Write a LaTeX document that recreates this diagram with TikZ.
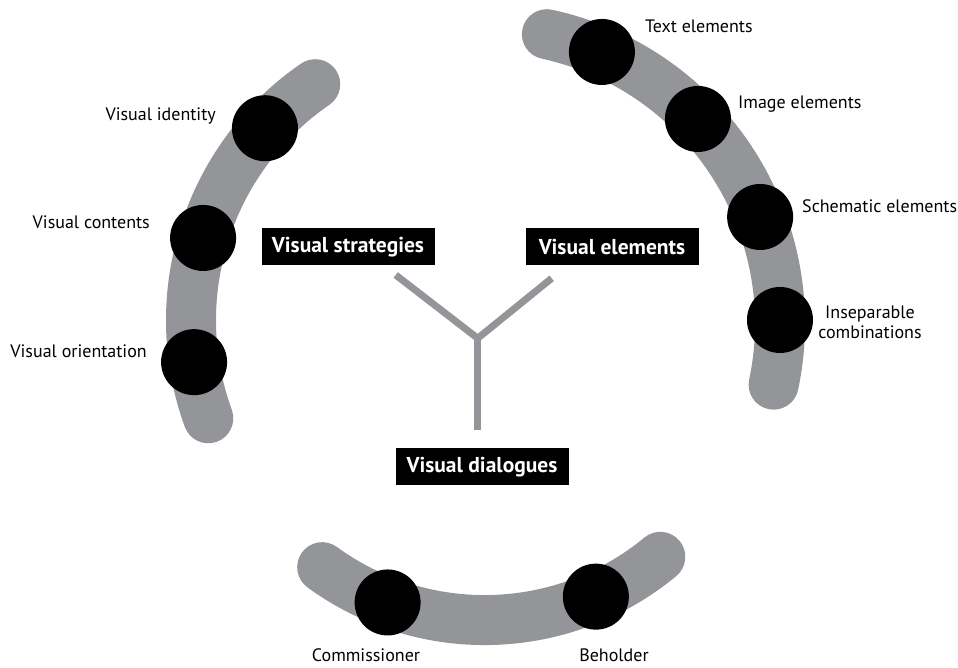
\documentclass[tikz,border=0pt]{standalone}
\usepackage{fontspec}
\setmainfont{PT Sans}
\usetikzlibrary{calc}
\definecolor{bandgray}{RGB}{147,149,152}
\begin{document}
\begin{tikzpicture}[x=1pt,y=1pt,
  band/.style={line width=50pt, draw=bandgray, line cap=round},
  dot/.style={circle, fill=black, minimum size=66pt, inner sep=0pt},
  stem/.style={line width=7pt, draw=bandgray, line cap=butt},
  boxlabel/.style={fill=black, text=white, font=\fontsize{21.5}{24}\selectfont\bfseries, minimum width=173pt, minimum height=37pt, inner sep=0pt},
  lbl/.style={font=\fontsize{18}{20}\selectfont, inner sep=0pt}]
\useasboundingbox (0,0) rectangle (958,668);
\coordinate (cL) at (477.5,347.7);
\coordinate (cR) at (483.8,344.4);
\coordinate (cB) at (484.6,323.6);
% bands
\draw[band] ($(cL)+(124.5:286.5)$) arc[start angle=124.5, end angle=200, radius=286.5];
\draw[band] ($(cR)+(77.7:296.2)$) arc[start angle=77.7, end angle=-11.9, radius=296.2];
\draw[band] ($(cB)+(-126.1:275.7)$) arc[start angle=-126.1, end angle=-50.4, radius=275.7];
% dots
\node[dot] (vid) at ($(cL)+(137.9:286.5)$) {};
\node[dot] (vco) at ($(cL)+(163.3:286.5)$) {};
\node[dot] (vor) at ($(cL)+(188.4:286.5)$) {};
\node[dot] (tel) at ($(cR)+(66.5:296.2)$) {};
\node[dot] (iel) at ($(cR)+(43.7:296.2)$) {};
\node[dot] (sel) at ($(cR)+(21.1:296.2)$) {};
\node[dot] (ico) at ($(cR)+(0.7:296.2)$) {};
\node[dot] (com) at ($(cB)+(-110.6:275.7)$) {};
\node[dot] (beh) at ($(cB)+(-66.2:275.7)$) {};
% Y connector
\coordinate (yj) at (477.7,329.7);
\coordinate (ya) at (395.7,393);
\coordinate (yb) at (551.7,389.7);
\coordinate (yc) at (477.7,238);
\draw[stem, line join=miter] (ya) -- (yj) -- (yb);
\draw[stem] (yj) -- (yc);
% boxes
\node[boxlabel] (vs) at (348,421.3) {Visual strategies};
\node[boxlabel] (ve) at (612,421.3) {Visual elements};
\node[boxlabel] (vd) at (482,201.3) {Visual dialogues};
% labels
\node[lbl, anchor=base east] (lvid) at (216,547.3) {Visual identity};
\node[lbl, anchor=base east] (lvco) at (150,439) {Visual contents};
\node[lbl, anchor=base east] (lvor) at (147,310) {Visual orientation};
\node[lbl, anchor=base west] (ltel) at (645,635) {Text elements};
\node[lbl, anchor=base west] (liel) at (738,559) {Image elements};
\node[lbl, anchor=base west] (lsel) at (802,455) {Schematic elements};
\node[lbl, align=center] (lico) at (870,346) {Inseparable\\combinations};
\node[lbl, anchor=base] (lcom) at (366,6) {Commissioner};
\node[lbl, anchor=base] (lbeh) at (614,6) {Beholder};
\end{tikzpicture}
\end{document}
